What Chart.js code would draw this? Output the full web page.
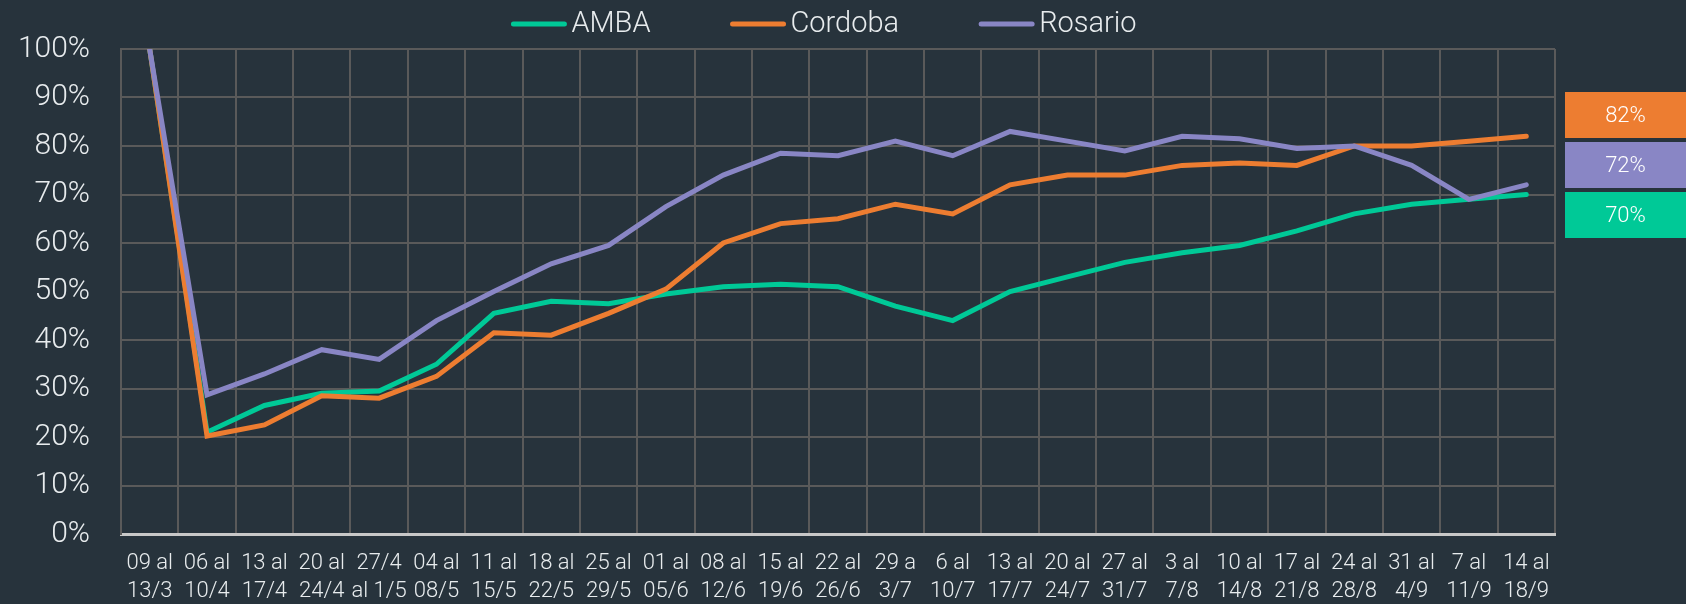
<!DOCTYPE html>
<html>
<head>
<meta charset="utf-8">
<script src="https://cdn.jsdelivr.net/npm/chart.js@4"></script>
<style>
  html, body { margin: 0; padding: 0; background: #27333c; }
  #wrap { width: 1686px; height: 604px; }
</style>
</head>
<body>
<div id="wrap"><canvas id="chart" width="1686" height="604"></canvas></div>
<script>
// week ranges (two lines per label)
const weeks = [
    ['09 al', '13/3'], ['06 al', '10/4'], ['13 al', '17/4'], ['20 al', '24/4'], ['27/4', 'al 1/5'],
    ['04 al', '08/5'], ['11 al', '15/5'], ['18 al', '22/5'], ['25 al', '29/5'], ['01 al', '05/6'],
    ['08 al', '12/6'], ['15 al', '19/6'], ['22 al', '26/6'], ['29 a', '3/7'], ['6 al', '10/7'],
    ['13 al', '17/7'], ['20 al', '24/7'], ['27 al', '31/7'], ['3 al', '7/8'], ['10 al', '14/8'],
    ['17 al', '21/8'], ['24 al', '28/8'], ['31 al', '4/9'], ['7 al', '11/9'], ['14 al', '18/9']
];

const amba = [100, 21, 26.5, 29, 29.5, 35, 45.5, 48, 47.5, 49.5, 51, 51.5, 51, 47, 44,
    50, 53, 56, 58, 59.5, 62.5, 66, 68, 69, 70];
const cordoba = [100, 20.2, 22.5, 28.5, 28, 32.5, 41.5, 41, 45.5, 50.5, 60, 64, 65, 68, 66,
    72, 74, 74, 76, 76.5, 76, 80, 80, 81, 82];
const rosario = [100, 28.7, 33, 38, 36, 44, 50, 55.7, 59.5, 67.5, 74, 78.5, 78, 81, 78,
    83, 81, 79, 82, 81.5, 79.5, 80, 76, 69, 72];

const yTicks = [0, 10, 20, 30, 40, 50, 60, 70, 80, 90, 100];

const GREEN = '#00c997';
const ORANGE = '#ed7d31';
const PURPLE = '#8986c5';
const TEXT = '#e8ecee';
const GRID = '#5a5a5a';
const FONT = "'Roboto', 'DejaVu Sans', sans-serif";

// legend drawn by hand: line swatch right next to the name, wide gaps between items
const topLegend = {
    id: 'topLegend',
    afterDraw(chart) {
        const ctx = chart.ctx;
        const lineLen = 55, textGap = 5, itemGap = 80, centerX = 824, y = 24;
        ctx.save();
        ctx.font = '300 29px ' + FONT;
        const sets = chart.data.datasets;
        const widths = sets.map(ds => lineLen + textGap + ctx.measureText(ds.label).width);
        const total = widths.reduce((a, b) => a + b, 0) + itemGap * (sets.length - 1);
        let x = centerX - total / 2;
        sets.forEach((ds, i) => {
            ctx.strokeStyle = ds.borderColor;
            ctx.lineWidth = 5;
            ctx.lineCap = 'round';
            ctx.beginPath();
            ctx.moveTo(x + 2, y);
            ctx.lineTo(x + lineLen - 2, y);
            ctx.stroke();
            ctx.fillStyle = TEXT;
            ctx.textAlign = 'left';
            ctx.textBaseline = 'middle';
            ctx.fillText(ds.label, x + lineLen + textGap, y + 1);
            x += widths[i] + itemGap;
        });
        ctx.restore();
    }
};

// last-week value boxes to the right of the plot
const lastValueBoxes = {
    id: 'lastValueBoxes',
    afterDraw(chart) {
        const ctx = chart.ctx;
        const area = chart.chartArea;
        const items = chart.data.datasets.map(ds => ({
            value: ds.data[ds.data.length - 1],
            color: ds.borderColor
        })).sort((a, b) => b.value - a.value);
        let y = 92;
        items.forEach(it => {
            ctx.save();
            ctx.fillStyle = it.color;
            ctx.fillRect(area.right + 10, y, chart.width - area.right - 10, 46);
            ctx.fillStyle = '#ffffff';
            ctx.font = '300 22px ' + FONT;
            ctx.textAlign = 'center';
            ctx.textBaseline = 'middle';
            ctx.fillText(Math.round(it.value) + '%', (area.right + 10 + chart.width) / 2, y + 24);
            ctx.restore();
            y += 50;
        });
    }
};

function lineSet(label, data, color, order) {
    return {
        label: label,
        data: data,
        borderColor: color,
        backgroundColor: color,
        borderWidth: 5,
        borderCapStyle: 'round',
        pointRadius: 0,
        pointHoverRadius: 0,
        tension: 0,
        order: order
    };
}

document.addEventListener('DOMContentLoaded', function() {
    const ctx = document.getElementById('chart').getContext('2d');
    new Chart(ctx, {
        type: 'line',
        data: {
            labels: weeks,
            datasets: [
                lineSet('AMBA', amba, GREEN, 2),
                lineSet('Cordoba', cordoba, ORANGE, 1),
                lineSet('Rosario', rosario, PURPLE, 0)
            ]
        },
        options: {
            responsive: false,
            animation: false,
            layout: { padding: { left: 0, right: 131, top: 40, bottom: 0 } },
            plugins: {
                tooltip: { enabled: false },
                legend: { display: false }
            },
            scales: {
                x: {
                    offset: true,
                    grid: { color: GRID, lineWidth: 2, offset: true, drawTicks: false },
                    border: { color: '#c8c8c8', width: 3 },
                    ticks: {
                        color: TEXT,
                        font: { family: FONT, size: 22, weight: '300', lineHeight: 1.25 },
                        padding: 16,
                        autoSkip: false,
                        maxRotation: 0,
                        minRotation: 0
                    },
                    afterFit(scale) { scale.height = 70; }
                },
                y: {
                    min: 0,
                    max: 100,
                    afterBuildTicks(scale) { scale.ticks = yTicks.map(v => ({ value: v })); },
                    grid: { color: GRID, lineWidth: 2, drawTicks: false },
                    border: { color: GRID, width: 2 },
                    ticks: {
                        color: TEXT,
                        font: { family: FONT, size: 30, weight: '300' },
                        padding: 31,
                        callback: v => v + '%'
                    },
                    afterFit(scale) { scale.width = 121; }
                }
            }
        },
        plugins: [topLegend, lastValueBoxes]
    });
});
</script>
</body>
</html>
